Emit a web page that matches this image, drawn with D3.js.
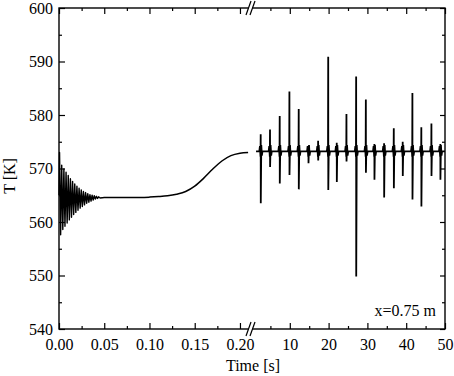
<!DOCTYPE html>
<html>
<head>
<meta charset="utf-8">
<script src="https://cdn.jsdelivr.net/npm/d3@7/dist/d3.min.js"></script>
<style>
  body { margin: 0; background: #fff; }
  text { font-family: "Liberation Serif", "DejaVu Serif", "Times New Roman", serif; font-size: 16px; fill: #000; }
</style>
</head>
<body>
<svg width="454" height="376"></svg>
<script>
// Data
// early damped oscillation: alternating peaks [time s, T K]
const earlyPeaks = [
  [0.0000, 565.0], [0.0006, 573.0], [0.0018, 557.6], [0.0030, 570.6], [0.0042, 558.6],
  [0.0054, 569.9], [0.0066, 559.2], [0.0078, 569.3], [0.0090, 559.8], [0.0102, 568.7],
  [0.0114, 560.4], [0.0126, 568.1], [0.0138, 560.9], [0.0150, 567.6], [0.0162, 561.4],
  [0.0174, 567.1], [0.0186, 561.8], [0.0198, 566.7], [0.0210, 562.2], [0.0222, 566.3],
  [0.0234, 562.6], [0.0246, 566.0], [0.0258, 562.9], [0.0270, 565.7], [0.0282, 563.2],
  [0.0294, 565.5], [0.0306, 563.5], [0.0318, 565.3], [0.0330, 563.7], [0.0342, 565.1],
  [0.0354, 563.9], [0.0366, 565.0], [0.0378, 564.1], [0.0390, 564.9], [0.0402, 564.3],
  [0.0414, 564.8], [0.0426, 564.4], [0.0438, 564.7], [0.0450, 564.5]
];
// plateau and rise
const rampCurve = [
  [0.0450, 564.5], [0.05, 564.6], [0.07, 564.6], [0.09, 564.6], [0.10, 564.65],
  [0.11, 564.75], [0.12, 564.9], [0.13, 565.2], [0.14, 565.7], [0.15, 566.7],
  [0.16, 568.2], [0.17, 569.9], [0.18, 571.4], [0.19, 572.4], [0.20, 572.85],
  [0.209, 573.0]
];
// long run: baseline with spikes
const baseTemp = 573.2;
const runStart = 1.3, runEnd = 50;
const spikeTimes = [2.5, 4.9, 7.4, 9.9, 12.3, 14.8, 17.3, 19.9, 22.1, 24.6,
                    27.1, 29.6, 31.8, 34.3, 36.8, 39.1, 41.6, 43.9, 46.5, 48.8];
const spikeMax = [576.4, 577.3, 579.8, 584.4, 581.1, 574.0, 575.2, 590.9, 574.8, 580.2,
                  587.2, 582.9, 574.6, 574.7, 577.5, 575.0, 584.1, 577.7, 578.4, 574.6];
const spikeMin = [563.5, 570.3, 567.2, 568.8, 566.1, 571.0, 571.5, 566.0, 567.5, 571.3,
                  549.8, 569.2, 567.9, 564.6, 566.3, 568.6, 564.2, 562.9, 568.6, 567.9];

const leftMajor = [0, 0.05, 0.10, 0.15, 0.20];
const leftMinor = [0.025, 0.075, 0.125, 0.175];
const rightMajor = [10, 20, 30, 40, 50];
const rightMinor = [5, 15, 25, 35, 45];
const yMajor = [540, 550, 560, 570, 580, 590, 600];
const yMinor = [545, 555, 565, 575, 585, 595];

const svg = d3.select("svg");
const pLeft = 59, pRight = 445, pTop = 8, pBottom = 329, breakX = 251;

const xL = d3.scaleLinear().domain([0, 0.2122]).range([pLeft, breakX]);
const xR = d3.scaleLinear().domain([0, 50]).range([breakX, pRight]);
const y = d3.scaleLinear().domain([540, 600]).range([pBottom, pTop]);

// curves
const lineL = d3.line().x(d => xL(d[0])).y(d => y(d[1]));
svg.append("path")
    .attr("d", lineL(earlyPeaks))
    .attr("fill", "none").attr("stroke", "#000").attr("stroke-width", 1.4)
    .attr("stroke-linejoin", "round");

svg.append("path")
    .attr("d", lineL.curve(d3.curveMonotoneX)(rampCurve))
    .attr("fill", "none").attr("stroke", "#000").attr("stroke-width", 1.5);

// build the long-run trace: baseline with a small wobble and a spike at each event
const runPts = [[runStart, baseTemp]];
spikeTimes.forEach((t, i) => {
  runPts.push([t - 0.35, baseTemp]);
  runPts.push([t - 0.2, baseTemp + 1.0]);
  runPts.push([t - 0.05, baseTemp - 1.0]);
  runPts.push([t, spikeMax[i]]);
  runPts.push([t + 0.02, spikeMin[i]]);
  runPts.push([t + 0.15, baseTemp + 1.2]);
  runPts.push([t + 0.3, baseTemp - 0.8]);
  runPts.push([t + 0.45, baseTemp]);
});
runPts.push([runEnd, baseTemp]);

const lineR = d3.line().x(d => xR(d[0])).y(d => y(d[1]));
svg.append("path")
    .attr("d", lineR(runPts))
    .attr("fill", "none").attr("stroke", "#000").attr("stroke-width", 1.8)
    .attr("stroke-linejoin", "miter");

// axes (ticks pointing inward)
function addAxis(axis, tx, ty, size, vals, labels, pad) {
  const g = svg.append("g")
      .attr("transform", `translate(${tx},${ty})`)
      .call(axis.tickValues(vals).tickSizeInner(size).tickSizeOuter(0)
                .tickPadding(pad || 3).tickFormat(labels || (() => "")));
  g.select(".domain").remove();
  g.selectAll("line").attr("stroke", "#000").attr("stroke-width", 1.2);
  g.attr("font-family", null).attr("font-size", null);
  return g;
}

const f2 = d3.format(".2f");
addAxis(d3.axisBottom(xL), 0, pBottom, -6, leftMajor, f2, 10);
addAxis(d3.axisBottom(xL), 0, pBottom, -3, leftMinor);
addAxis(d3.axisBottom(xR), 0, pBottom, -6, rightMajor, d3.format("d"), 10);
addAxis(d3.axisBottom(xR), 0, pBottom, -3, rightMinor);
addAxis(d3.axisTop(xL), 0, pTop, -6, leftMajor);
addAxis(d3.axisTop(xL), 0, pTop, -3, leftMinor);
addAxis(d3.axisTop(xR), 0, pTop, -6, rightMajor);
addAxis(d3.axisTop(xR), 0, pTop, -3, rightMinor);
addAxis(d3.axisLeft(y), pLeft, 0, -6, yMajor, d3.format("d"), 6);
addAxis(d3.axisLeft(y), pLeft, 0, -3, yMinor);
addAxis(d3.axisRight(y), pRight, 0, -5, yMajor);
addAxis(d3.axisRight(y), pRight, 0, -3, yMinor);

// frame
svg.append("rect")
    .attr("x", pLeft).attr("y", pTop)
    .attr("width", pRight - pLeft).attr("height", pBottom - pTop)
    .attr("fill", "none").attr("stroke", "#000").attr("stroke-width", 1.4);

// axis break marks
[pTop, pBottom].forEach(yy => {
  svg.append("rect")
      .attr("x", breakX - 2.5).attr("y", yy - 2)
      .attr("width", 4).attr("height", 4).attr("fill", "#fff");
  [breakX - 2.5, breakX + 1.5].forEach(bx => {
    svg.append("line")
        .attr("x1", bx - 2.5).attr("y1", yy + 7)
        .attr("x2", bx + 2.5).attr("y2", yy - 7)
        .attr("stroke", "#000").attr("stroke-width", 1.2);
  });
});

// labels
svg.append("text")
    .attr("x", (pLeft + pRight) / 2 + 1).attr("y", 371)
    .attr("text-anchor", "middle")
    .text("Time [s]");

svg.append("text")
    .attr("transform", "translate(15,176) rotate(-90)")
    .attr("text-anchor", "middle")
    .text("T [K]");

svg.append("text")
    .attr("x", 436).attr("y", 316)
    .attr("text-anchor", "end")
    .text("x=0.75 m");
</script>
</body>
</html>
